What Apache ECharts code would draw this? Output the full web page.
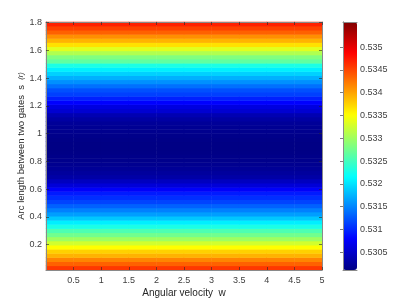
<!DOCTYPE html>
<html><head><meta charset="utf-8">
<script src="https://cdn.jsdelivr.net/npm/echarts@6/dist/echarts.min.js"></script>
<style>html,body{margin:0;padding:0;background:#fff}#c{width:405px;height:304px}</style>
</head><body><div id="c"></div>
<script>
// Angular velocity w: column centres
const angularVelocity = [0.25, 0.75, 1.25, 1.75, 2.25, 2.75, 3.25, 3.75, 4.25, 4.75];
// Arc length between two gates s: row centres (bottom to top)
const arcLength = [0.032, 0.062, 0.092, 0.121, 0.151, 0.181, 0.211, 0.241, 0.270, 0.300,
  0.330, 0.360, 0.390, 0.419, 0.449, 0.479, 0.509, 0.539, 0.568, 0.598,
  0.628, 0.658, 0.688, 0.717, 0.747, 0.777, 0.807, 0.837, 0.866, 0.896,
  0.926, 0.956, 0.986, 1.015, 1.045, 1.075, 1.105, 1.135, 1.164, 1.194,
  1.224, 1.254, 1.284, 1.313, 1.343, 1.373, 1.403, 1.433, 1.462, 1.492,
  1.522, 1.552, 1.582, 1.611, 1.641, 1.671, 1.701, 1.731, 1.760, 1.790];
// value of each row, bottom to top
const rowValues = [0.534571, 0.534353, 0.534163, 0.533918, 0.533755, 0.533510, 0.533265, 0.532993, 0.532748, 0.532558,
  0.532286, 0.532068, 0.531851, 0.531633, 0.531470, 0.531307, 0.531144, 0.531035, 0.530926, 0.530763,
  0.530572, 0.530436, 0.530300, 0.530246, 0.530208, 0.530175, 0.530154, 0.530137, 0.530121, 0.530115,
  0.530115, 0.530126, 0.530143, 0.530164, 0.530192, 0.530219, 0.530279, 0.530366, 0.530534, 0.530621,
  0.530790, 0.530959, 0.531130, 0.531214, 0.531383, 0.531557, 0.531726, 0.531905, 0.532068, 0.532286,
  0.532661, 0.532830, 0.533086, 0.533347, 0.533673, 0.533918, 0.534108, 0.534353, 0.534530, 0.534701];
const xTicks = [0.5, 1, 1.5, 2, 2.5, 3, 3.5, 4, 4.5, 5];
const yTicks = [0.2, 0.4, 0.6, 0.8, 1, 1.2, 1.4, 1.6, 1.8];
const cbTicks = [0.5305, 0.531, 0.5315, 0.532, 0.5325, 0.533, 0.5335, 0.534, 0.5345, 0.535];
const cMin = 0.53011, cMax = 0.53555;
const jet = ['#000084', '#0000ff', '#0080ff', '#00ffff', '#80ff80', '#ffff00', '#ff8000', '#ff0000', '#800000'];

const cells = [];
angularVelocity.forEach((w, i) => arcLength.forEach((s, j) => cells.push([i, j, rowValues[j]])));

const FONT = 'Liberation Sans';
const lineC = '#8a8a8a';
const labelStyle = {color: '#404040', fontSize: 9, fontFamily: FONT};
const tickStyle = {show: true, inside: true, length: 3, lineStyle: {color: '#262626', width: 0.6}};

const chart = echarts.init(document.getElementById('c'), null, {renderer: 'canvas'});
chart.setOption({
  animation: false,
  backgroundColor: '#ffffff',
  grid: [
    {left: 46, top: 22, width: 276, height: 248},
    {left: 343, top: 22, width: 14, height: 248}
  ],
  xAxis: [
    {gridIndex: 0, type: 'category', data: angularVelocity, show: false},
    {gridIndex: 0, type: 'value', min: 0, max: 5, position: 'bottom', z: 5,
     name: 'Angular velocity  w', nameLocation: 'middle', nameGap: 18, nameMoveOverlap: false,
     nameTextStyle: {color: '#262626', fontSize: 10, fontFamily: FONT},
     axisLine: {show: true, lineStyle: {color: lineC, width: 1}},
     axisTick: Object.assign({customValues: xTicks}, tickStyle),
     axisLabel: Object.assign({customValues: xTicks, margin: 6}, labelStyle),
     splitLine: {show: false}},
    {gridIndex: 0, type: 'value', min: 0, max: 5, position: 'top', z: 5,
     axisLine: {show: true, lineStyle: {color: lineC, width: 1}},
     axisTick: Object.assign({customValues: xTicks}, tickStyle),
     axisLabel: {show: false}, splitLine: {show: false}},
    {gridIndex: 1, type: 'value', min: 0, max: 1, position: 'bottom', z: 5,
     axisLine: {show: true, lineStyle: {color: lineC, width: 1}},
     axisTick: {show: false}, axisLabel: {show: false}, splitLine: {show: false}},
    {gridIndex: 1, type: 'value', min: 0, max: 1, position: 'top', z: 5,
     axisLine: {show: true, lineStyle: {color: lineC, width: 1}},
     axisTick: {show: false}, axisLabel: {show: false}, splitLine: {show: false}}
  ],
  yAxis: [
    {gridIndex: 0, type: 'category', data: arcLength, show: false},
    {gridIndex: 0, type: 'value', min: 0.017, max: 1.805, position: 'left', z: 5,
     name: 'Arc length between two gates  s  {i|(r)}', nameLocation: 'middle', nameGap: 20, nameMoveOverlap: false,
     nameTextStyle: {color: '#262626', fontSize: 9.5, fontFamily: FONT,
       rich: {i: {fontStyle: 'italic', fontSize: 7.5, color: '#262626', fontFamily: FONT}}},
     axisLine: {show: true, lineStyle: {color: lineC, width: 1}},
     axisTick: Object.assign({customValues: yTicks}, tickStyle),
     axisLabel: Object.assign({customValues: yTicks, margin: 4}, labelStyle),
     splitLine: {show: false}},
    {gridIndex: 0, type: 'value', min: 0.017, max: 1.805, position: 'right', z: 5,
     axisLine: {show: true, lineStyle: {color: lineC, width: 1}},
     axisTick: Object.assign({customValues: yTicks}, tickStyle),
     axisLabel: {show: false}, splitLine: {show: false}},
    {gridIndex: 1, type: 'value', min: cMin, max: cMax, position: 'right', z: 5,
     axisLine: {show: true, lineStyle: {color: lineC, width: 1}},
     axisTick: Object.assign({customValues: cbTicks}, tickStyle),
     axisLabel: Object.assign({customValues: cbTicks, margin: 3}, labelStyle),
     splitLine: {show: false}},
    {gridIndex: 1, type: 'value', min: cMin, max: cMax, position: 'left', z: 5,
     axisLine: {show: true, lineStyle: {color: lineC, width: 1}},
     axisTick: {show: false}, axisLabel: {show: false}, splitLine: {show: false}}
  ],
  visualMap: {
    type: 'continuous', min: cMin, max: cMax, seriesIndex: 0, dimension: 2,
    inRange: {color: jet}, show: true, calculable: false, hoverLink: false,
    orient: 'vertical', left: 343, top: 22, itemWidth: 14, itemHeight: 248,
    padding: 0, text: null, showLabel: false
  },
  series: [{
    type: 'heatmap', xAxisIndex: 0, yAxisIndex: 0, data: cells,
    progressive: 0, emphasis: {disabled: true}, silent: true
  }]
});
</script></body></html>
